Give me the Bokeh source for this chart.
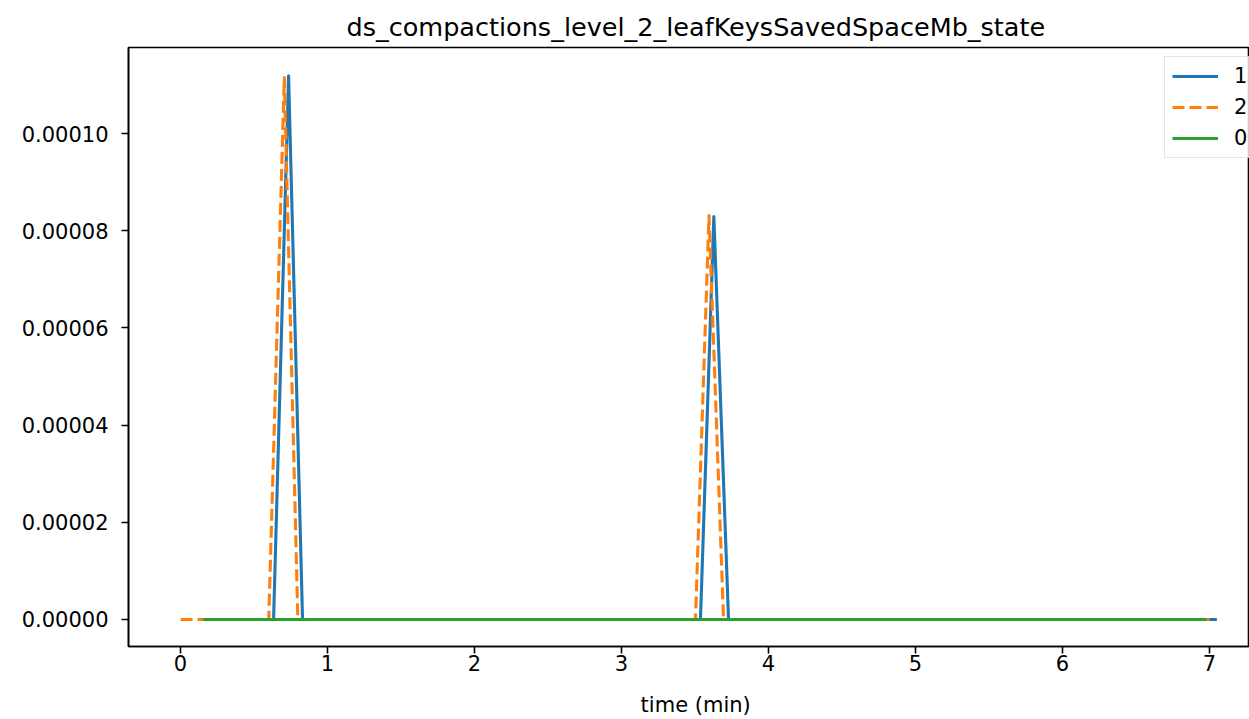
from bokeh.plotting import figure
from bokeh.models import Range1d, FixedTicker, PrintfTickFormatter, Legend, LegendItem
from bokeh.embed import file_html
from bokeh.resources import INLINE

title_text = "ds_compactions_level_2_leafKeysSavedSpaceMb_state"
x_label = "time (min)"

# series "1"
s1_t = [0.125, 0.633, 0.735, 0.830, 3.537, 3.628, 3.728, 7.05]
s1_v = [0.0, 0.0, 0.0001119, 0.0, 0.0, 0.0000829, 0.0, 0.0]
# series "2"
s2_t = [0.0, 0.600, 0.706, 0.798, 3.503, 3.595, 3.694, 7.0]
s2_v = [0.0, 0.0, 0.0001115, 0.0, 0.0, 0.0000831, 0.0, 0.0]
# series "0"
s0_t = [0.155, 6.98]
s0_v = [0.0, 0.0]

x_ticks = [0, 1, 2, 3, 4, 5, 6, 7]
y_ticks = [0.0, 0.00002, 0.00004, 0.00006, 0.00008, 0.00010]

FONT = "DejaVu Sans"
W, H = 1249, 719
FL, FT, FB = 128, 47, 646   # frame left / top / bottom in page pixels

p = figure(width=W, height=H, output_backend="svg", toolbar_location=None,
           x_range=Range1d(-0.354, 7.272), y_range=Range1d(-0.00000556, 0.0001177),
           min_border_left=FL, min_border_right=0, min_border_top=FT, min_border_bottom=H - FB)
p.title.text = title_text
p.title.text_font = FONT
p.title.text_font_size = "25.5px"
p.title.text_font_style = "normal"
p.title.text_color = "black"
p.title.align = "left"
p.title.offset = 346 - FL
p.title.standoff = 12

p.xgrid.visible = False
p.ygrid.visible = False
p.outline_line_color = "black"
p.outline_line_width = 1.6
p.background_fill_color = "white"
p.border_fill_color = "white"

for ax in (p.xaxis[0], p.yaxis[0]):
    ax.axis_line_color = "black"
    ax.axis_line_width = 1.6
    ax.major_tick_line_width = 1.6
    ax.major_tick_out = 7
    ax.major_tick_in = 0
    ax.minor_tick_line_color = None
    ax.major_label_text_font = FONT
    ax.major_label_text_font_size = "21px"
    ax.major_label_text_color = "black"

p.xaxis[0].ticker = FixedTicker(ticks=x_ticks)
p.yaxis[0].ticker = FixedTicker(ticks=y_ticks)
p.yaxis[0].formatter = PrintfTickFormatter(format="%.5f")
p.yaxis[0].major_label_standoff = 13
p.xaxis[0].major_label_standoff = 1
# two no-break spaces nudge the centred label right, where the reference's
# (wider, partly off-screen) axes centre it
p.xaxis[0].axis_label = "\u00a0\u00a0" + x_label
p.xaxis[0].axis_label_text_font = FONT
p.xaxis[0].axis_label_text_font_size = "21px"
p.xaxis[0].axis_label_text_font_style = "normal"
p.xaxis[0].axis_label_text_color = "black"
p.xaxis[0].axis_label_standoff = 19

r1 = p.line(s1_t, s1_v, line_color="#1f77b4", line_width=3.1, line_join="round")
r2 = p.line(s2_t, s2_v, line_color="#ff7f0e", line_width=3.1, line_dash="12 5", line_join="round")
r0 = p.line(s0_t, s0_v, line_color="#2ca02c", line_width=3.1, line_join="round")

legend = Legend(items=[LegendItem(label="1", renderers=[r1]),
                       LegendItem(label="2", renderers=[r2]),
                       LegendItem(label="0", renderers=[r0])],
                location=(1164 - FL, FB - 158))
legend.label_text_font = FONT
legend.label_text_font_size = "21px"
legend.label_text_color = "black"
legend.glyph_width = 46
legend.glyph_height = 20
legend.label_height = 20
legend.label_standoff = 16
legend.spacing = 7
legend.padding = 7
legend.margin = 0
legend.border_line_color = "#cccccc"
legend.border_line_width = 1.5
legend.background_fill_alpha = 0.8
p.add_layout(legend)

open("out.html", "w").write(file_html(p, INLINE))
